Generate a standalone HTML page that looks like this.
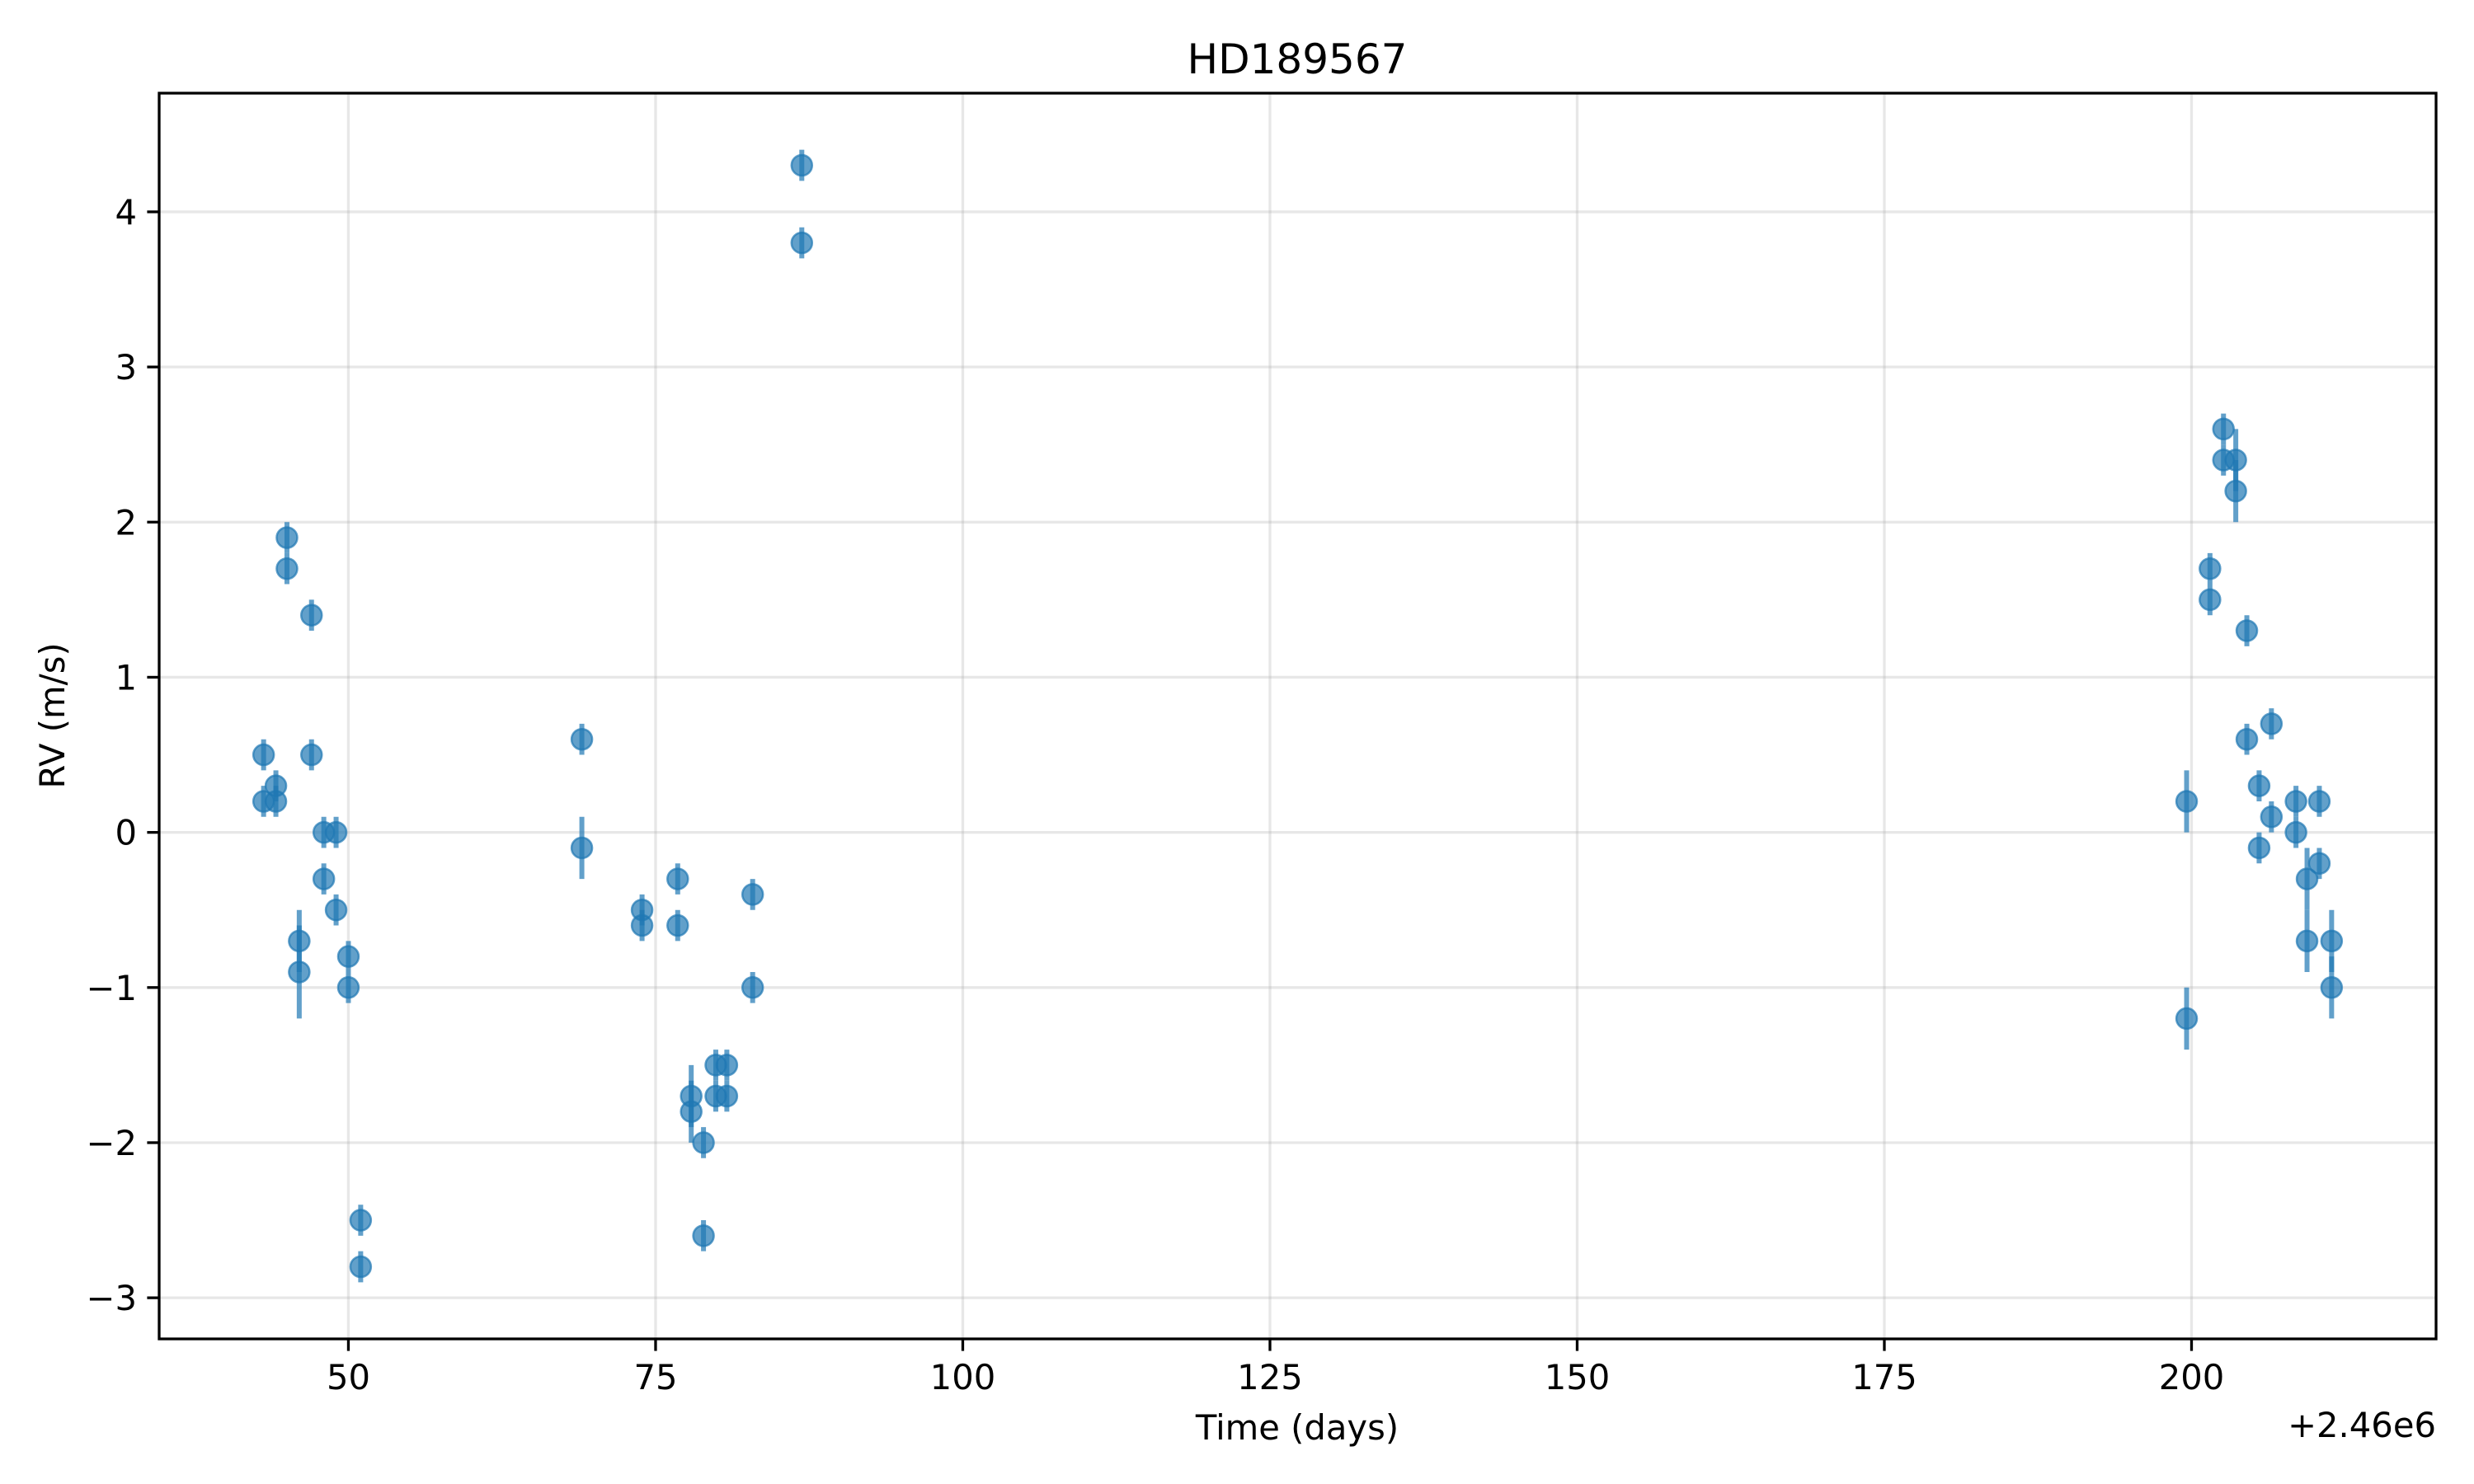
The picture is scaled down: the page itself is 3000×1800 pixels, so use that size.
<!DOCTYPE html>
<html><head><meta charset="utf-8"><style>
html,body{margin:0;padding:0;background:#fff;}
svg{display:block;font-family:"DejaVu Sans","Liberation Sans",sans-serif;}
</style></head><body>
<svg id="chart" width="3000" height="1800" viewBox="0 0 3000 1800" xmlns="http://www.w3.org/2000/svg">
<rect x="0" y="0" width="3000" height="1800" fill="#fff"/>
<g id="grid"></g>
<g id="marks"></g>
<rect x="193" y="113" width="2761" height="1511" fill="none" stroke="#000" stroke-width="3.3"/>
<g id="ticks"></g>
<text x="1573" y="89" font-size="50" text-anchor="middle">HD189567</text>
<text x="1573" y="1746" font-size="41.7" text-anchor="middle">Time (days)</text>
<text x="2954" y="1743" font-size="41.7" text-anchor="end">+2.46e6</text>
<text x="78" y="868" font-size="41.7" text-anchor="middle" transform="rotate(-90 78 868)">RV (m/s)</text>
</svg>
<script>
const times = [43.1,43.1,44.1,44.1,45,45,46,46,47,47,48,49,48,49,50,50,51,51,
  69,69,73.9,73.9,76.8,76.8,77.9,77.9,78.9,78.9,79.9,79.9,80.8,80.8,82.9,82.9,86.9,86.9,
  199.6,199.6,201.5,201.5,202.6,202.6,203.6,203.6,204.5,204.5,205.5,205.5,206.5,206.5,208.5,208.5,209.4,209.4,210.4,210.4,211.4,211.4];
const rvs = [0.5,0.2,0.3,0.2,1.9,1.7,-0.7,-0.9,1.4,0.5,0,0,-0.3,-0.5,-0.8,-1.0,-2.5,-2.8,
  0.6,-0.1,-0.5,-0.6,-0.3,-0.6,-1.7,-1.8,-2.0,-2.6,-1.5,-1.7,-1.5,-1.7,-0.4,-1.0,4.3,3.8,
  0.2,-1.2,1.7,1.5,2.6,2.4,2.4,2.2,1.3,0.6,0.3,-0.1,0.7,0.1,0.2,0,-0.3,-0.7,0.2,-0.2,-0.7,-1.0];
const errs = [0.1,0.1,0.1,0.1,0.1,0.1,0.2,0.3,0.1,0.1,0.1,0.1,0.1,0.1,0.1,0.1,0.1,0.1,
  0.1,0.2,0.1,0.1,0.1,0.1,0.2,0.2,0.1,0.1,0.1,0.1,0.1,0.1,0.1,0.1,0.1,0.1,
  0.2,0.2,0.1,0.1,0.1,0.1,0.2,0.2,0.1,0.1,0.1,0.1,0.1,0.1,0.1,0.1,0.2,0.2,0.1,0.1,0.2,0.2];
const xTicks = [50,75,100,125,150,175,200];
const yTicks = [-3,-2,-1,0,1,2,3,4];
const yTickLabels = ["\u22123","\u22122","\u22121","0","1","2","3","4"];

const L=193,R=2954,T=113,B=1624;
const X0=34.6,X1=219.9,Y0=-3.265,Y1=4.765;
const sx=v=>L+(v-X0)/(X1-X0)*(R-L);
const sy=v=>B-(v-Y0)/(Y1-Y0)*(B-T);
const NS="http://www.w3.org/2000/svg";
function mk(tag,attrs,parent){const e=document.createElementNS(NS,tag);for(const k in attrs)e.setAttribute(k,attrs[k]);parent.appendChild(e);return e;}
const grid=document.getElementById('grid'),ticks=document.getElementById('ticks'),marks=document.getElementById('marks');
xTicks.forEach(t=>{
  const x=sx(t);
  const g=mk('line',{x1:x,x2:x,y1:T,y2:B,stroke:'#b0b0b0','stroke-opacity':0.3,'stroke-width':3.3},grid);
  
  
  const tk=mk('line',{x1:x,x2:x,y1:B,y2:B+14.6,stroke:'#000','stroke-width':3.3},ticks);
  
  
  const tx=mk('text',{x:x,y:1685,'font-size':41.7,'text-anchor':'middle'},ticks);
  tx.textContent=String(t);
  
  
});
yTicks.forEach((t,i)=>{
  const y=sy(t);
  const g=mk('line',{x1:L,x2:R,y1:y,y2:y,stroke:'#b0b0b0','stroke-opacity':0.3,'stroke-width':3.3},grid);
  
  
  const tk=mk('line',{x1:L-14.6,x2:L,y1:y,y2:y,stroke:'#000','stroke-width':3.3},ticks);
  
  
  const tx=mk('text',{x:166,y:y+15,'font-size':41.7,'text-anchor':'end'},ticks);
  tx.textContent=yTickLabels[i];
  
  
});
times.forEach((t,i)=>{
  const x=sx(t),y=sy(rvs[i]);
  const eb=mk('line',{x1:x,x2:x,y1:sy(rvs[i]+errs[i]),y2:sy(rvs[i]-errs[i]),stroke:'#1f77b4','stroke-opacity':0.7,'stroke-width':6},marks);
  
  
  const c=mk('circle',{cx:x,cy:y,r:12.5,fill:'#1f77b4','fill-opacity':0.7,stroke:'#1f77b4','stroke-opacity':0.7,'stroke-width':2.5},marks);
  
  
});
</script>
</body></html>
